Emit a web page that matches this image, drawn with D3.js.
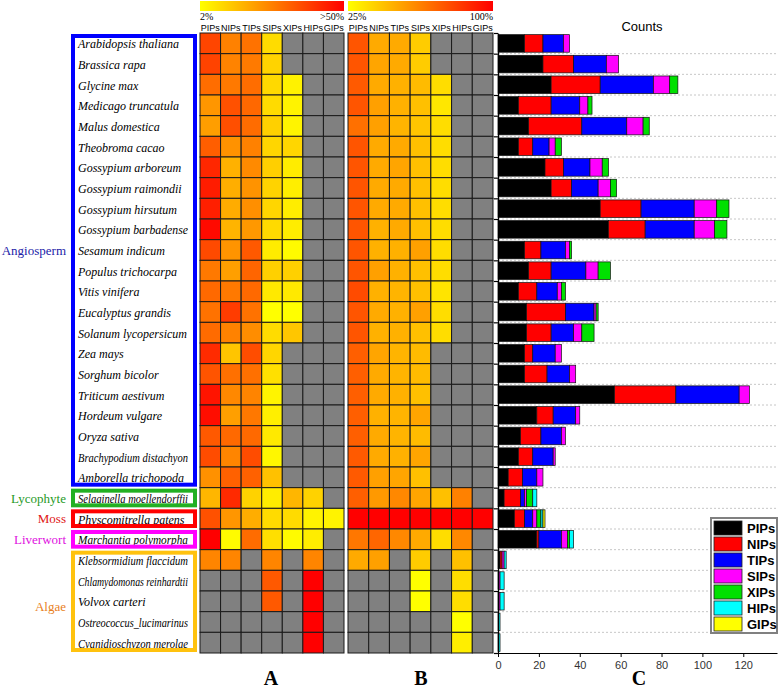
<!DOCTYPE html>
<html><head><meta charset="utf-8">
<script src="https://cdn.jsdelivr.net/npm/d3@7"></script>
<style>body{margin:0;background:#fff}svg{display:block}</style>
</head><body>
<script>
// ---------------- DATA ----------------
const species = ["Arabidopsis thaliana","Brassica rapa","Glycine max","Medicago truncatula","Malus domestica","Theobroma cacao","Gossypium arboreum","Gossypium raimondii","Gossypium hirsutum","Gossypium barbadense","Sesamum indicum","Populus trichocarpa","Vitis vinifera","Eucalyptus grandis","Solanum lycopersicum","Zea mays","Sorghum bicolor","Triticum aestivum","Hordeum vulgare","Oryza sativa","Brachypodium distachyon","Amborella trichopoda","Selaginella moellendorffii","Physcomitrella  patens","Marchantia polymorpha","Klebsormidium flaccidum","Chlamydomonas reinhardtii","Volvox carteri","Ostreococcus_lucimarinus","Cyanidioschyzon merolae"];
const subfamilies = ["PIPs","NIPs","TIPs","SIPs","XIPs","HIPs","GIPs"];
const cladeNames = ["Angiosperm","Lycophyte","Moss","Liverwort","Algae"];
const cladeFirst = [0,22,23,24,25];
const cladeLast  = [21,22,23,24,29];
const cladeColors = ["#0000ff","#22b022","#ff0000","#ff00ff","#ffc20e"];
const cladeTextColors = ["#1c1ca8","#1f9a1f","#e01515","#e010e0","#e8801c"];

// counts (panel C)
const PIPs = [13,22,26,10,15,10,23,26,50,54,13,15,10,14,14,13,13,57,19,11,10,5,3,8,19,1,0,0,0,0];
const NIPs = [9,15,24,16,26,7,9,10,20,18,8,11,9,19,12,4,11,30,8,10,7,7,8,5,1,1,0,0,0,0];
const TIPs = [10,16,26,14,22,8,13,13,26,24,12,17,10,14,11,11,11,31,11,10,10,7,2,4,11,0,0,0,0,0];
const SIPs = [3,6,8,4,8,3,6,6,11,10,2,6,2,1,4,3,3,5,2,2,1,3,1,2,3,1,1,1,0,0];
const XIPs = [0,0,4,2,3,3,3,3,6,6,1,6,2,1,6,0,0,0,0,0,0,0,3,2,1,0,0,0,0,0];
const HIPs = [0,0,0,0,0,0,0,0,0,0,0,0,0,0,0,0,0,0,0,0,0,0,2,1,2,1,2,2,1,1];
const GIPs = [0,0,0,0,0,0,0,0,0,0,0,0,0,0,0,0,0,0,0,0,0,0,0,1,0,0,0,0,0,0];
const barColors = ["#000000","#ff0000","#0000ff","#ff00ff","#00e000","#00ffff","#ffff00"];
const xTicks = [0,20,40,60,80,100,120];

// panel A: % of each subfamily (0 = absent)
const pctA = [
 [37.1,25.7,28.6,8.6,0,0,0],
 [37.3,25.4,27.1,10.2,0,0,0],
 [29.5,27.3,29.5,9.1,4.5,0,0],
 [21.7,34.8,30.4,8.7,4.3,0,0],
 [20.3,35.1,29.7,10.8,4.1,0,0],
 [32.3,22.6,25.8,9.7,9.7,0,0],
 [42.6,16.7,24.1,11.1,5.6,0,0],
 [44.8,17.2,22.4,10.3,5.2,0,0],
 [44.2,17.7,23.0,9.7,5.3,0,0],
 [48.2,16.1,21.4,8.9,5.4,0,0],
 [36.1,22.2,33.3,5.6,2.8,0,0],
 [27.3,20.0,30.9,10.9,10.9,0,0],
 [30.3,27.3,30.3,6.1,6.1,0,0],
 [28.6,38.8,28.6,2.0,2.0,0,0],
 [29.8,25.5,23.4,8.5,12.8,0,0],
 [41.9,12.9,35.5,9.7,0,0,0],
 [34.2,28.9,28.9,7.9,0,0,0],
 [46.3,24.4,25.2,4.1,0,0,0],
 [47.5,20.0,27.5,5.0,0,0,0],
 [33.3,30.3,30.3,6.1,0,0,0],
 [35.7,25.0,35.7,3.6,0,0,0],
 [22.7,31.8,31.8,13.6,0,0,0],
 [15.8,42.1,10.5,5.3,15.8,10.5,0],
 [34.8,21.7,17.4,8.7,8.7,4.3,4.3],
 [51.4,2.7,29.7,8.1,2.7,5.4,0],
 [25,25,0,25,0,25,0],
 [0,0,0,33.3,0,66.7,0],
 [0,0,0,33.3,0,66.7,0],
 [0,0,0,0,0,100,0],
 [0,0,0,0,0,100,0]
];
// panel B: percentages on 25%-100% scale (0 = absent)
const pctB = [
 [75,50,50,40,0,0,0],
 [75,51.5,50,40,0,0,0],
 [73.5,50,48,45,35,0,0],
 [75,53,48,43.5,32,0,0],
 [67,53,47,42,35,0,0],
 [75,50,50,43.5,35,0,0],
 [75,50,51.5,43.5,35,0,0],
 [75,50,50,43.5,35,0,0],
 [75,50,50,43.5,35,0,0],
 [75,48,50,43.5,35,0,0],
 [75,48,48,53,35,0,0],
 [75,53,48,43.5,35,0,0],
 [78,48,47,43.5,33,0,0],
 [75,50,48,53,35,0,0],
 [75,48,48,43.5,35,0,0],
 [72,51.5,47,45,0,0,0],
 [72,50,47,45,0,0,0],
 [72,50,48,43.5,0,0,0],
 [72,48,47,51.5,0,0,0],
 [72,50,47,45,0,0,0],
 [73.5,50,48,51.5,0,0,0],
 [73.5,53,51.5,43.5,0,0,0],
 [72,55,60,51.5,43.5,62,0],
 [100,100,100,100,100,100,100],
 [65,70,60,50,35,60,0],
 [50,53,0,40,0,43.5,0],
 [0,0,0,25,0,35,0],
 [0,0,0,25,0,35,0],
 [0,0,0,0,0,25,0],
 [0,0,0,0,0,30,0]
];

// ---------------- DRAW ----------------
const W = 778, H = 689;
const svg = d3.select("body").append("svg").attr("width", W).attr("height", H);
const serif = "'Liberation Serif','Times New Roman',serif";
const sans = "'Liberation Sans',Arial,sans-serif";

const rowY = d3.scaleBand().domain(d3.range(species.length)).range([33, 653]);
const rh = rowY.bandwidth();
const colA = d3.scaleBand().domain(subfamilies).range([200, 344]);
const colB = d3.scaleBand().domain(subfamilies).range([348, 493]);
const colorA = d3.scaleLinear().domain([2, 50]).range(["#ffff00", "#ff0000"]).clamp(true);
const colorB = d3.scaleLinear().domain([25, 100]).range(["#ffff00", "#ff0000"]).clamp(true);

const defs = svg.append("defs");
const grad = defs.append("linearGradient").attr("id", "g1");
grad.append("stop").attr("offset", "0%").attr("stop-color", "#ffff00");
grad.append("stop").attr("offset", "50%").attr("stop-color", "#ff8000");
grad.append("stop").attr("offset", "100%").attr("stop-color", "#ff0000");

function heatmap(col, data, color, lo, hi) {
  const [x0, x1] = col.range();
  svg.append("rect").attr("x", x0).attr("y", 1).attr("width", x1 - x0).attr("height", 10).attr("fill", "url(#g1)");
  svg.append("text").attr("x", x0).attr("y", 20).attr("font-family", serif).attr("font-size", 10).text(lo);
  svg.append("text").attr("x", x1).attr("y", 20).attr("text-anchor", "end").attr("font-family", serif).attr("font-size", 10).text(hi);
  svg.append("g").selectAll("text").data(subfamilies).join("text")
    .attr("x", d => col(d) + col.bandwidth() / 2).attr("y", 31)
    .attr("text-anchor", "middle").attr("font-family", sans).attr("font-size", 9).text(d => d);
  const g = svg.append("g");
  data.forEach((row, i) => {
    g.selectAll(null).data(row.map((v, j) => ({ v, j }))).join("rect")
      .attr("x", d => col(subfamilies[d.j])).attr("y", rowY(i))
      .attr("width", col.bandwidth()).attr("height", rh)
      .attr("fill", d => d.v > 0 ? color(d.v) : "#808080")
      .attr("stroke", "#1a1a1a").attr("stroke-width", 1);
  });
}
heatmap(colA, pctA, colorA, "2%", ">50%");
heatmap(colB, pctB, colorB, "25%", "100%");

// species names
svg.append("g").selectAll("text").data(species).join("text")
  .attr("x", 78).attr("y", (d, i) => rowY(i) + rh / 2 + 1)
  .attr("dominant-baseline", "central")
  .attr("font-family", serif).attr("font-style", "italic").attr("font-size", 12).text(d => d)
  .each(function () {
    if (this.getComputedTextLength() > 110) {
      d3.select(this).attr("textLength", 110).attr("lengthAdjust", "spacingAndGlyphs");
    }
  });

// clade boxes & labels
cladeNames.forEach((name, k) => {
  const y0 = rowY(cladeFirst[k]), y1 = rowY(cladeLast[k]) + rh;
  svg.append("rect").attr("x", 73).attr("y", y0 + 3).attr("width", 122).attr("height", y1 - y0 - 6)
    .attr("fill", "none").attr("stroke", cladeColors[k]).attr("stroke-width", 4);
  let ly = (y0 + y1) / 2;
  if (name === "Angiosperm") ly = rowY(10) + rh / 2;
  if (name === "Algae") ly = rowY(27) + rh / 2 + 5;
  svg.append("text").attr("x", 66).attr("y", ly).attr("dominant-baseline", "central")
    .attr("text-anchor", "end").attr("font-family", serif).attr("font-size", 13)
    .attr("fill", cladeTextColors[k]).text(name);
});

// ---------------- bar chart C ----------------
const table = species.map((s, i) => ({ species: s, PIPs: PIPs[i], NIPs: NIPs[i], TIPs: TIPs[i], SIPs: SIPs[i], XIPs: XIPs[i], HIPs: HIPs[i], GIPs: GIPs[i] }));
const stack = d3.stack().keys(subfamilies)(table);
const x = d3.scaleLinear().domain([0, 136.5]).range([498, 777]);
const yb = d3.scaleBand().domain(species).range([33, 653]).paddingInner(0.15).paddingOuter(0.08);
const bound = d3.scaleLinear().domain([0, species.length]).range([33, 653]);

svg.append("g").selectAll("line").data(d3.range(1, species.length)).join("line")
  .attr("x1", 498).attr("x2", 777).attr("y1", d => bound(d)).attr("y2", d => bound(d))
  .attr("stroke", "#b8b8b8").attr("stroke-width", 0.8).attr("stroke-dasharray", "2,2");

svg.append("g").selectAll("g").data(stack).join("g")
  .attr("fill", (d, i) => barColors[i])
  .selectAll("rect").data(d => d.filter(p => p[1] > p[0])).join("rect")
  .attr("x", d => x(d[0])).attr("width", d => x(d[1]) - x(d[0]))
  .attr("y", d => yb(d.data.species)).attr("height", yb.bandwidth())
  .attr("stroke", "#111").attr("stroke-width", 0.7);

const ax = svg.append("g").attr("transform", "translate(0,653)")
  .call(d3.axisBottom(x).tickValues(xTicks).tickSize(4).tickSizeOuter(0));
ax.selectAll("text").attr("font-family", sans).attr("font-size", 11).attr("fill", "#333").attr("dy", "0.85em");
const ay = svg.append("g").attr("transform", "translate(498,0)")
  .call(d3.axisLeft(bound).tickValues(d3.range(0, species.length + 1)).tickFormat("").tickSize(4).tickSizeOuter(0));
ay.selectAll("line,path").attr("stroke", "#000").attr("stroke-width", 1.2);

svg.append("text").attr("x", 642).attr("y", 31).attr("text-anchor", "middle")
  .attr("font-family", sans).attr("font-size", 13).text("Counts");

// legend
const lg = svg.append("g");
lg.append("rect").attr("x", 711).attr("y", 518).attr("width", 66).attr("height", 115)
  .attr("fill", "#fff").attr("stroke", "#808080").attr("stroke-width", 2);
subfamilies.forEach((s, i) => {
  lg.append("rect").attr("x", 714).attr("y", 521 + i * 16).attr("width", 28).attr("height", 14)
    .attr("fill", barColors[i]).attr("stroke", "#222").attr("stroke-width", 0.8);
  lg.append("text").attr("x", 747).attr("y", 528 + i * 16).attr("dominant-baseline", "central")
    .attr("font-family", sans).attr("font-weight", "bold").attr("font-size", 13).text(s);
});

// panel letters
[["A", 271], ["B", 421], ["C", 639]].forEach(([t, px]) => {
  svg.append("text").attr("x", px).attr("y", 685).attr("text-anchor", "middle")
    .attr("font-family", serif).attr("font-weight", "bold").attr("font-size", 20).text(t);
});
</script>
</body></html>
